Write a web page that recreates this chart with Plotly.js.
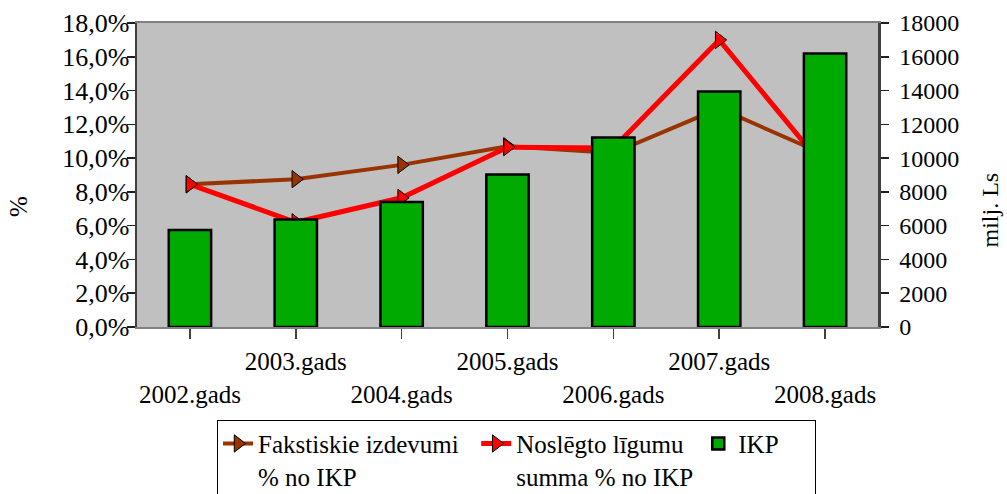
<!DOCTYPE html>
<html><head><meta charset="utf-8">
<script src="https://cdn.plot.ly/plotly-3.0.1.min.js"></script>
<style>html,body{margin:0;padding:0;background:#fff;}#chart{width:1007px;height:494px;}</style>
</head><body><div id="chart"></div>
<script>
var years = ['2002.gads','2003.gads','2004.gads','2005.gads','2006.gads','2007.gads','2008.gads'];
var tickLabels = ['\u00A0<br>2002.gads','2003.gads','\u00A0<br>2004.gads','2005.gads','\u00A0<br>2006.gads','2007.gads','\u00A0<br>2008.gads'];
var fakstiskie = [8.45, 8.75, 9.6, 10.7, 10.3, 12.95, 10.2];
var noslegto = [8.45, 6.2, 7.65, 10.65, 10.6, 17.0, 9.4];
var ikp = [5740, 6370, 7400, 9030, 11220, 13950, 16200];
var pctTicks = [0,2,4,6,8,10,12,14,16,18];
var pctLabels = ['0,0%','2,0%','4,0%','6,0%','8,0%','10,0%','12,0%','14,0%','16,0%','18,0%'];
var lsTicks = [0,2000,4000,6000,8000,10000,12000,14000,16000,18000];
var lsLabels = ['0','2000','4000','6000','8000','10000','12000','14000','16000','18000'];
var seriesNames = ['Fakstiskie izdevumi\u00A0\u00A0<br>% no IKP', 'Noslēgto līgumu<br>summa % no IKP', 'IKP\u00A0\u00A0\u00A0\u00A0\u00A0'];
var leftTitle = '%';
var rightTitle = 'milj. Ls';

var F = 'Liberation Serif';
var traces = [
  {type:'scatter', mode:'lines+markers', name:seriesNames[0], x:years, y:fakstiskie, yaxis:'y',
   line:{color:'#993300', width:4}, marker:{symbol:'triangle-right', size:15, color:'#993300', line:{color:'#000', width:1}}},
  {type:'scatter', mode:'lines+markers', name:seriesNames[1], x:years, y:noslegto, yaxis:'y',
   line:{color:'#FF0000', width:5}, marker:{symbol:'triangle-right', size:15, color:'#FF0000', line:{color:'#000', width:1}}},
  {type:'bar', name:seriesNames[2], x:years, y:ikp, yaxis:'y2', width:0.4,
   marker:{color:'#00AA00', line:{color:'#000', width:2.5}}}
];
var layout = {
  width:1007, height:494,
  margin:{l:137, r:129, t:23, b:167, autoexpand:false},
  paper_bgcolor:'#fff', plot_bgcolor:'#C0C0C0',
  font:{family:F, size:25, color:'#000'},
  showlegend:true,
  legend:{orientation:'h', x:0.108, xanchor:'left', y:-0.305, yanchor:'top',
    bgcolor:'#fff', bordercolor:'#000', borderwidth:1, font:{family:F, size:25, color:'#000'},
    traceorder:'normal', valign:'top'},
  annotations:[
    {text:leftTitle, xref:'paper', yref:'paper', x:-0.1592, y:0.395, xanchor:'center', yanchor:'middle',
     textangle:-90, showarrow:false, font:{family:F, size:25, color:'#000'}},
    {text:rightTitle, xref:'paper', yref:'paper', x:1.1505, y:0.385, xanchor:'center', yanchor:'middle',
     textangle:-90, showarrow:false, font:{family:F, size:24, color:'#000'}}
  ],
  xaxis:{type:'category', range:[-0.5,6.5], tickvals:years, ticktext:tickLabels,
    ticks:'outside', ticklen:10, tickcolor:'#404040', tickwidth:1.5,
    showline:true, linecolor:'#808080', linewidth:2, mirror:true, showgrid:false, zeroline:false,
    tickfont:{family:F, size:25, color:'#000'}, tickangle:0, ticklabelstandoff:1},
  yaxis:{range:[0,18], tickvals:pctTicks, ticktext:pctLabels,
    ticks:'outside', ticklen:8, tickcolor:'#202020', tickwidth:1.5,
    showline:true, linecolor:'#404040', linewidth:2.5, showgrid:false, zeroline:false,
    tickfont:{family:F, size:26, color:'#000'}, ticklabelstandoff:-8},
  yaxis2:{range:[0,18000], tickvals:lsTicks, ticktext:lsLabels, overlaying:'y', side:'right',
    ticks:'outside', ticklen:8, tickcolor:'#202020', tickwidth:1.5,
    showline:true, linecolor:'#404040', linewidth:2.5, showgrid:false, zeroline:false,
    tickfont:{family:F, size:24, color:'#000'}, ticklabelstandoff:6}
};
Plotly.newPlot('chart', traces, layout, {displayModeBar:false, staticPlot:true});
</script></body></html>
